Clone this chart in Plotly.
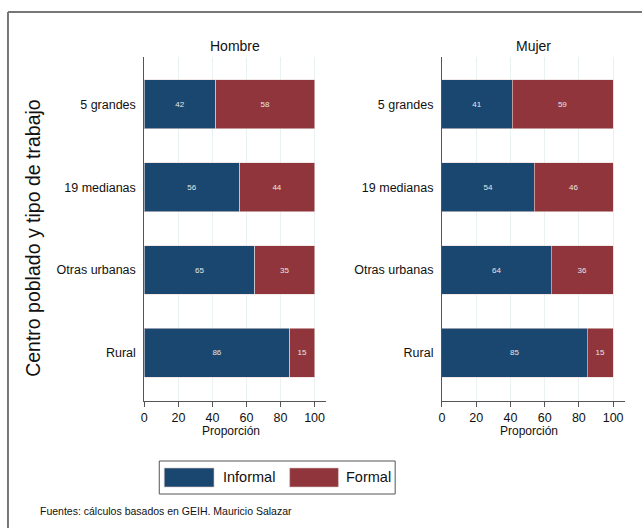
import plotly.graph_objects as go

categories = ["5 grandes", "19 medianas", "Otras urbanas", "Rural"]
panels = ["Hombre", "Mujer"]
informal_hombre = [42, 56, 65, 85.5]
formal_hombre = [58, 44, 35, 14.5]
informal_mujer = [41, 54, 64, 85]
formal_mujer = [59, 46, 36, 15]
x_ticks = [0, 20, 40, 60, 80, 100]
series_names = ["Informal", "Formal"]

BLUE = "#1a476f"
RED = "#90353b"
FONT = "Liberation Sans, Arial, sans-serif"

W, H = 642, 528
def px(x):
    return x / W
def py(y):
    return 1 - y / H

fig = go.Figure()
data = [(informal_hombre, formal_hombre, "x", "y"), (informal_mujer, formal_mujer, "x2", "y2")]
for inf, form, xa, ya in data:
    for vals, name, col in [(inf, series_names[0], BLUE), (form, series_names[1], RED)]:
        fig.add_trace(go.Bar(
            y=categories, x=vals, name=name, orientation="h",
            xaxis=xa, yaxis=ya, showlegend=False,
            marker=dict(color=col, line=dict(color="#e8d8d8", width=0.6)),
            width=0.59,
            texttemplate="%{x:.0f}", textposition="inside", insidetextanchor="middle",
            textangle=0, textfont=dict(size=8, color="#e6e6e6", family=FONT),
        ))

xcommon = dict(range=[0, 107], tickvals=x_ticks, ticks="outside", ticklen=5, tickcolor="#555",
               showline=True, linecolor="#555", linewidth=1, showgrid=True, gridcolor="#e9f1f2",
               gridwidth=1, zeroline=False, tickfont=dict(size=12.5, color="#111", family=FONT))
ycommon = dict(categoryorder="array", categoryarray=categories, range=[3.58, -0.57],
               showline=True, linecolor="#555", linewidth=1, ticks="", showgrid=False,
               ticklabelstandoff=5, tickfont=dict(size=12.5, color="#111", family=FONT))

dom_y = [py(401), py(57)]
fig.update_layout(
    width=W, height=H, margin=dict(l=0, r=0, t=0, b=0),
    paper_bgcolor="white", plot_bgcolor="white", barmode="stack",
    uniformtext=dict(minsize=8, mode="show"),
    xaxis=dict(domain=[px(142), px(325)], anchor="y", **xcommon),
    xaxis2=dict(domain=[px(441), px(625)], anchor="y2", **xcommon),
    yaxis=dict(domain=dom_y, anchor="x", **ycommon),
    yaxis2=dict(domain=dom_y, anchor="x2", **ycommon),
    font=dict(family=FONT, color="#111"),
)

ann = []
for name, x0, x1 in [(panels[0], 142, 325), (panels[1], 441, 625)]:
    ann.append(dict(text=name, x=px((x0 + x1) / 2), y=py(46), xref="paper", yref="paper",
                    showarrow=False, font=dict(size=14, family=FONT, color="#111"),
                    xanchor="center", yanchor="middle"))
    ann.append(dict(text="Proporción", x=px(x0 + 87), y=py(431),
                    xref="paper", yref="paper", showarrow=False,
                    font=dict(size=12, family=FONT, color="#111"), xanchor="center", yanchor="middle"))
ann.append(dict(text="Centro poblado y tipo de trabajo", x=px(30), y=py(238), xref="paper", yref="paper",
                showarrow=False, textangle=-90, font=dict(size=19.5, family=FONT, color="#111"),
                xanchor="center", yanchor="middle"))
ann.append(dict(text="Fuentes: cálculos basados en GEIH. Mauricio Salazar", x=px(35), y=py(511),
                xref="paper", yref="paper", showarrow=False, xanchor="left", yanchor="middle",
                font=dict(size=10.5, family=FONT, color="#111")))
ann.append(dict(text=series_names[0], x=px(219), y=py(477), xref="paper", yref="paper", showarrow=False,
                xanchor="left", yanchor="middle", font=dict(size=14.5, family=FONT, color="#111")))
ann.append(dict(text=series_names[1], x=px(343), y=py(477), xref="paper", yref="paper", showarrow=False,
                xanchor="left", yanchor="middle", font=dict(size=14.5, family=FONT, color="#111")))

shapes = [
    dict(type="line", xref="paper", yref="paper", x0=px(5), x1=1, y0=py(12), y1=py(12),
         line=dict(color="#777", width=2)),
    dict(type="line", xref="paper", yref="paper", x0=px(5), x1=px(5), y0=py(12), y1=0,
         line=dict(color="#777", width=2)),
    dict(type="rect", xref="paper", yref="paper", x0=px(157), x1=px(394), y0=py(494), y1=py(461),
         line=dict(color="#555", width=1), fillcolor="white"),
    dict(type="rect", xref="paper", yref="paper", x0=px(162), x1=px(212), y0=py(487), y1=py(468),
         line=dict(color="#d8c8c8", width=0.6), fillcolor=BLUE),
    dict(type="rect", xref="paper", yref="paper", x0=px(288), x1=px(337), y0=py(487), y1=py(468),
         line=dict(color="#d8c8c8", width=0.6), fillcolor=RED),
]
fig.update_layout(annotations=ann, shapes=shapes)

fig.write_html("out.html", config={"displayModeBar": False},
               post_script="document.body.style.margin='0px';")
